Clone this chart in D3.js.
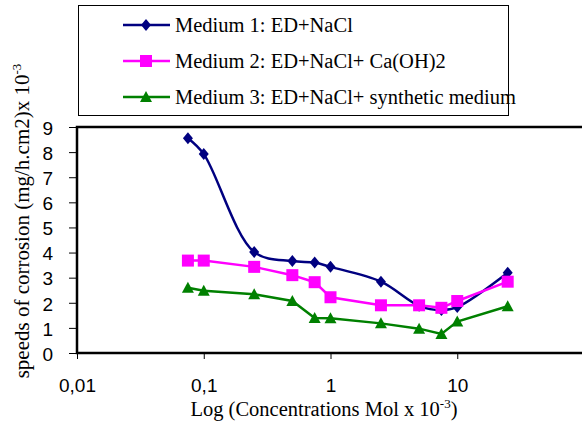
<!DOCTYPE html>
<html>
<head>
<meta charset="utf-8">
<script src="https://cdn.jsdelivr.net/npm/d3@7"></script>
<style>
  body { margin: 0; background: #fff; }
</style>
</head>
<body>
<div id="chart"></div>
<script>
var concentrations = [0.075, 0.1, 0.25, 0.5, 0.75, 1, 2.5, 5, 7.5, 10, 25];
var medium1 = [8.55, 7.92, 4.02, 3.66, 3.6, 3.43, 2.84, 1.88, 1.71, 1.83, 3.2];
var medium2 = [3.68, 3.68, 3.43, 3.1, 2.82, 2.22, 1.9, 1.9, 1.8, 2.07, 2.84];
var medium3 = [2.6, 2.48, 2.34, 2.07, 1.39, 1.38, 1.18, 0.97, 0.76, 1.25, 1.86];
var seriesNames = ['Medium 1: ED+NaCl', 'Medium 2: ED+NaCl+ Ca(OH)2', 'Medium 3: ED+NaCl+ synthetic medium'];
var xTicks = [0.01, 0.1, 1, 10];
var xTickLabels = ['0,01', '0,1', '1', '10'];
var yTicks = [0, 1, 2, 3, 4, 5, 6, 7, 8, 9];

var SANS = '"Liberation Sans", Arial, sans-serif';
var SERIF = '"Liberation Serif", "Times New Roman", "DejaVu Serif", serif';

var width = 582, height = 421;
var svg = d3.select('#chart')
    .append('svg')
    .attr('width', width)
    .attr('height', height);

var x = d3.scaleLog().domain([0.01, 100]).range([77, 584]);
var y = d3.scaleLinear().domain([0, 9]).range([353, 127]);

// plot frame (right side falls off the picture)
svg.append('path')
    .attr('d', 'M' + x(100) + ',' + y(9) + 'H' + x(0.01) + 'V' + y(0) + 'H' + x(100))
    .attr('fill', 'none')
    .attr('stroke', '#000')
    .attr('stroke-width', 2.5);

var yAxis = svg.append('g')
    .attr('transform', 'translate(' + x(0.01) + ',0)')
    .call(d3.axisLeft(y).tickValues(yTicks).tickSize(8).tickPadding(16).tickFormat(d3.format('d')));
yAxis.select('.domain').remove();
yAxis.selectAll('.tick text')
    .attr('dy', '0.38em')
    .style('font-family', SANS)
    .style('font-size', '19px')
    .attr('fill', '#000');

var xAxis = svg.append('g')
    .attr('transform', 'translate(0,' + y(0) + ')')
    .call(d3.axisBottom(x).tickValues(xTicks).tickSize(6).tickPadding(20)
        .tickFormat(function(d, i) { return xTickLabels[i]; }));
xAxis.select('.domain').remove();
xAxis.selectAll('.tick text')
    .style('font-family', SANS)
    .style('font-size', '19px')
    .attr('fill', '#000');

var series = [
    { name: seriesNames[0], values: medium1, color: '#000080', shape: 'diamond', curve: d3.curveCatmullRom.alpha(0.5) },
    { name: seriesNames[1], values: medium2, color: '#ff00ff', shape: 'square', curve: d3.curveLinear },
    { name: seriesNames[2], values: medium3, color: '#008000', shape: 'triangle', curve: d3.curveLinear }
];

function marker(g, shape, color) {
    if (shape === 'diamond') {
        g.append('path').attr('d', 'M0,-6L5,0L0,6L-5,0Z').attr('fill', color);
    } else if (shape === 'square') {
        g.append('rect').attr('x', -6).attr('y', -6).attr('width', 12).attr('height', 12).attr('fill', color);
    } else {
        g.append('path').attr('d', 'M0,-6L6,5L-6,5Z').attr('fill', color);
    }
}

series.forEach(function(s) {
    var pts = concentrations.map(function(c, i) { return [c, s.values[i]]; });
    var line = d3.line()
        .x(function(d) { return x(d[0]); })
        .y(function(d) { return y(d[1]); })
        .curve(s.curve);
    svg.append('path')
        .datum(pts)
        .attr('d', line)
        .attr('fill', 'none')
        .attr('stroke', s.color)
        .attr('stroke-width', 2.5);
    pts.forEach(function(p) {
        var g = svg.append('g').attr('transform', 'translate(' + x(p[0]) + ',' + y(p[1]) + ')');
        marker(g, s.shape, s.color);
    });
});

// legend
var legend = svg.append('g');
legend.append('rect')
    .attr('x', 78.5).attr('y', 5.5)
    .attr('width', 430).attr('height', 110)
    .attr('fill', '#fff')
    .attr('stroke', '#000')
    .attr('stroke-width', 1);
series.forEach(function(s, i) {
    var ly = 25 + i * 36;
    legend.append('line')
        .attr('x1', 123).attr('x2', 170)
        .attr('y1', ly).attr('y2', ly)
        .attr('stroke', s.color)
        .attr('stroke-width', 2.5);
    var g = legend.append('g').attr('transform', 'translate(146,' + ly + ')');
    marker(g, s.shape, s.color);
    legend.append('text')
        .attr('x', 175).attr('y', ly)
        .attr('dy', '0.33em')
        .style('font-family', SERIF)
        .style('font-size', '20.5px')
        .text(s.name);
});

// axis titles
var xt = svg.append('text')
    .attr('x', 324).attr('y', 416)
    .attr('text-anchor', 'middle')
    .style('font-family', SERIF)
    .style('font-size', '20.5px');
xt.append('tspan').text('Log (Concentrations Mol x 10');
xt.append('tspan').attr('dy', -8).style('font-size', '13px').text('-3');
xt.append('tspan').attr('dy', 8).text(')');

var yt = svg.append('text')
    .attr('transform', 'translate(29,221) rotate(-90)')
    .attr('text-anchor', 'middle')
    .style('font-family', SERIF)
    .style('font-size', '21px');
yt.append('tspan').text('speeds of corrosion (mg/h.cm2)x 10');
yt.append('tspan').attr('dy', -8).style('font-size', '13px').text('-3');
</script>
</body>
</html>
